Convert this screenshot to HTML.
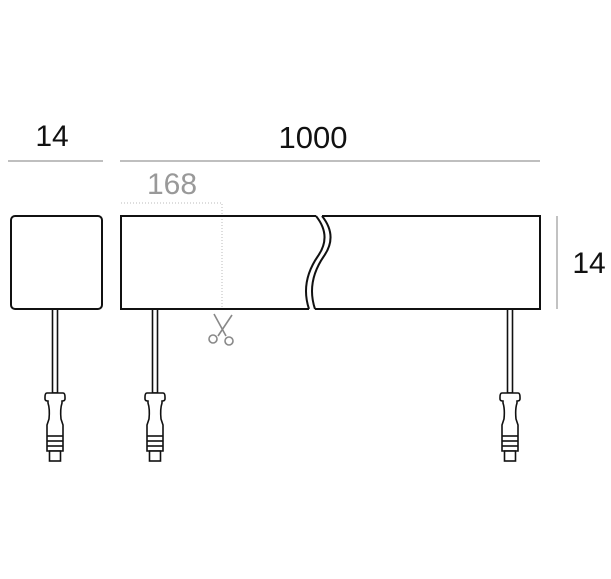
<!DOCTYPE html>
<html><head><style>
html,body{margin:0;padding:0;background:#fff;}
svg{display:block}
text{font-family:"Liberation Sans",sans-serif;}
</style></head><body>
<svg width="611" height="579" viewBox="0 0 611 579" xmlns="http://www.w3.org/2000/svg">
<defs>
<g id="conn" fill="#fff" stroke="#111" stroke-width="1.6">
<rect x="-2.5" y="0" width="5" height="84"/>
<path d="M-8,84 Q-10,84 -10,88 L-10,90 Q-10,92 -7,92 L-7,94 Q-5,100 -6,110 L-8,116 L-8,142 L8,142 L8,116 L6,110 Q5,100 7,94 L7,92 Q10,92 10,90 L10,88 Q10,84 8,84 Z"/>
<line x1="-8" y1="127" x2="8" y2="127"/>
<line x1="-8" y1="132" x2="8" y2="132"/>
<line x1="-8" y1="137" x2="8" y2="137"/>
<rect x="-5.5" y="142" width="11" height="10"/>
</g>
</defs>
<text x="52" y="146" font-size="30" text-anchor="middle" fill="#111">14</text>
<line x1="8" y1="161" x2="103" y2="161" stroke="#999" stroke-width="1.2"/>
<text x="313" y="148" font-size="31" text-anchor="middle" fill="#111">1000</text>
<line x1="120" y1="161" x2="540" y2="161" stroke="#999" stroke-width="1.2"/>
<text x="172" y="194" font-size="30" text-anchor="middle" fill="#999">168</text>
<path d="M121,203 L222,203 L222,312" fill="none" stroke="#bbb" stroke-width="1" stroke-dasharray="1,2"/>
<line x1="557" y1="216" x2="557" y2="309" stroke="#999" stroke-width="1.2"/>
<text x="589" y="273" font-size="30" text-anchor="middle" fill="#111">14</text>

<use href="#conn" x="55" y="309"/>
<use href="#conn" x="155" y="309"/>
<use href="#conn" x="510" y="309"/>

<rect x="11" y="216" width="91" height="93" rx="4" fill="#fff" stroke="#111" stroke-width="2"/>
<path d="M316,216 L121,216 L121,309 L309,309" fill="none" stroke="#111" stroke-width="2"/>
<path d="M322,216 L540,216 L540,309 L315,309" fill="none" stroke="#111" stroke-width="2"/>
<path d="M316,216 Q332,236 318,256 Q300,282 309,309" fill="none" stroke="#111" stroke-width="2"/>
<path d="M322,216 Q338,236 324,256 Q306,282 315,309" fill="none" stroke="#111" stroke-width="2"/>

<g stroke="#888" stroke-width="1.6" fill="none">
<line x1="214" y1="314" x2="226" y2="336"/>
<line x1="232" y1="315" x2="218" y2="336"/>
<circle cx="213" cy="339" r="4"/>
<circle cx="229" cy="341" r="4"/>
</g>
</svg>
</body></html>
